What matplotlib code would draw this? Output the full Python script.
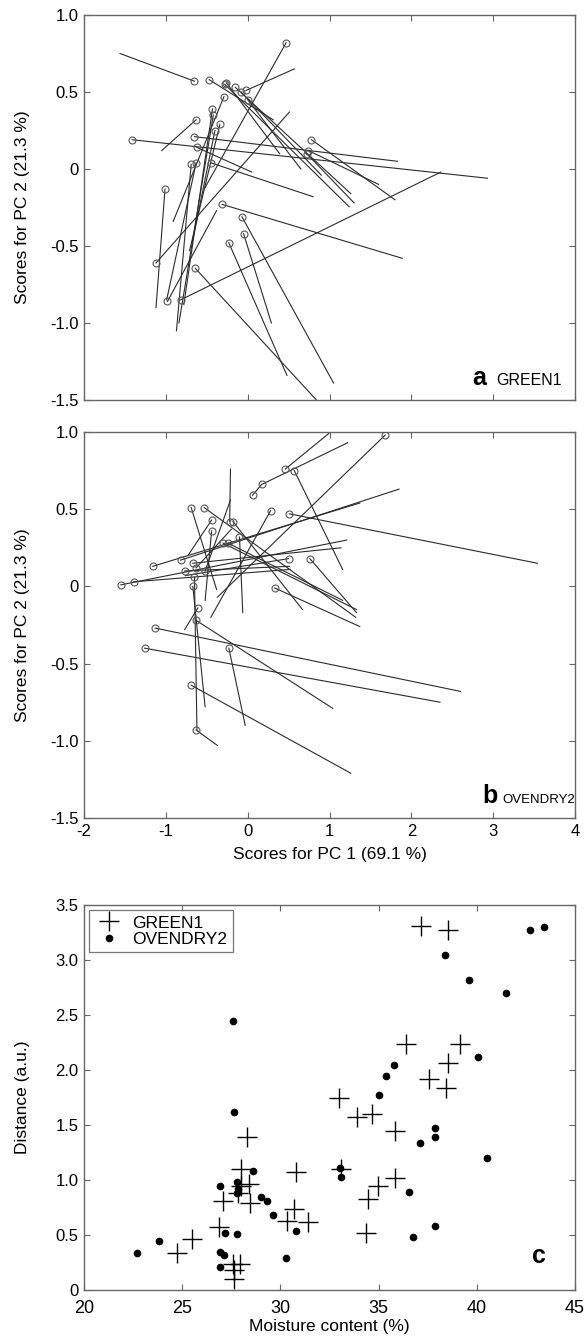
import matplotlib
matplotlib.use("Agg")
import matplotlib.pyplot as plt
from matplotlib.ticker import FixedLocator, FixedFormatter

plt.rcParams["font.family"] = ["Liberation Sans", "DejaVu Sans"]

# ---- panel a (GREEN1): PCA score start points (circles) and end points ----
a_start_x = [0.47, -0.65, -0.47, -0.28, -0.26, -0.15, -0.08, -0.02, 0.00, -0.29,
             -0.43, -0.42, -0.63, -0.34, -0.40, -1.41, -0.65, -0.62, 0.78, 0.74,
             -0.69, -0.63, -0.45, -1.01, -0.31, -0.07, -0.05, -0.23, -1.12, -0.64,
             -0.98, -0.82, 0.72]
a_start_y = [0.82, 0.57, 0.58, 0.55, 0.56, 0.53, 0.50, 0.51, 0.45, 0.47,
             0.39, 0.35, 0.32, 0.29, 0.25, 0.19, 0.21, 0.14, 0.19, 0.12,
             0.03, 0.04, 0.04, -0.13, -0.23, -0.31, -0.42, -0.48, -0.61, -0.645,
             -0.86, -0.85, 0.10]
a_end_x = [-0.52, -1.56, 0.31, 1.24, 0.39, 1.26, 0.90, 0.57, 0.65, -0.91,
           -0.78, -0.84, -1.05, -0.71, -0.67, 2.93, 1.83, 0.05, 1.80, 1.60,
           -0.87, -0.99, 0.80, -1.12, 1.89, 1.05, 0.29, 0.48, 0.51, 0.84,
           -0.38, 2.36, 1.30]
a_end_y = [-0.12, 0.75, 0.32, -0.245, 0.10, -0.16, -0.04, 0.65, 0.00, -0.34,
           -0.88, -1.00, 0.12, -0.53, -0.46, -0.06, 0.05, -0.02, -0.20, -0.10,
           -1.05, -0.85, -0.18, -0.90, -0.58, -1.39, -1.00, -1.34, 0.37, -1.50,
           -0.27, -0.02, -0.22]

# ---- panel b (OVENDRY2) ----
b_start_x = [1.68, 0.46, 0.57, 0.17, 0.06, -0.69, -0.53, 0.28, 0.51, -0.44,
             -0.44, -0.22, -0.18, -0.10, -0.30, -0.24, 0.50, 0.76, -0.82, -0.67,
             -0.77, -0.63, -0.52, -0.65, -1.55, -1.39, 0.33, -0.61, -0.63, -1.13,
             -1.26, -0.23, -0.69, -0.63, -0.67, -1.16]
b_start_y = [0.98, 0.76, 0.75, 0.66, 0.59, 0.51, 0.51, 0.49, 0.47, 0.43,
             0.36, 0.42, 0.42, 0.32, 0.28, 0.28, 0.18, 0.18, 0.17, 0.15,
             0.10, 0.12, 0.10, 0.06, 0.01, 0.03, -0.01, -0.14, -0.22, -0.27,
             -0.40, -0.40, -0.64, -0.93, 0.00, 0.13]
b_end_x = [-0.37, 0.99, 1.16, 1.22, 0.17, -0.38, 1.32, -0.45, 3.54, -0.73,
           -0.52, -0.21, 0.67, -0.06, 1.33, 1.16, -0.76, 1.33, 1.85, 1.14,
           0.51, -0.20, -0.21, -0.62, 1.21, 0.52, 1.37, -0.77, 1.04, 2.60,
           2.35, -0.03, 1.26, -0.37, -0.52, 1.37]
b_end_y = [-0.07, 0.99, 0.11, 0.93, 0.66, -0.02, -0.20, -0.20, 0.15, 0.20,
           -0.09, 0.76, -0.15, -0.17, -0.15, -0.09, 0.07, -0.17, 0.63, 0.25,
           0.13, 0.37, 0.56, -0.93, 0.30, 0.11, -0.26, -0.28, -0.79, -0.68,
           -0.75, -0.90, -1.21, -1.03, -0.78, 0.54]

# ---- panel c: distance vs moisture content ----
green_x = [24.75, 25.5, 26.85, 27.1, 27.65, 27.6, 27.95, 27.65, 28.0, 28.3,
           27.85, 28.0, 28.4, 28.45, 30.8, 30.7, 30.35, 31.4, 33.0, 33.1,
           33.9, 34.65, 35.85, 35.85, 34.95, 34.45, 34.35, 36.4, 37.15, 38.55,
           39.15, 38.55, 37.55, 38.45]
green_y = [0.34, 0.46, 0.57, 0.81, 0.10, 0.24, 0.24, 0.18, 1.10, 1.39,
           0.88, 0.95, 0.96, 0.79, 1.07, 0.74, 0.63, 0.62, 1.75, 1.10,
           1.57, 1.60, 1.45, 1.02, 0.95, 0.83, 0.52, 2.24, 3.31, 3.27,
           2.24, 2.06, 1.92, 1.84]
oven_x = [22.7, 23.8, 26.9, 27.2, 27.8, 26.9, 27.15, 26.9, 27.65, 27.8,
          27.85, 27.8, 28.6, 29.0, 29.3, 29.6, 30.8, 30.3, 33.05, 33.1,
          27.6, 42.7, 43.4, 38.4, 39.6, 41.5, 40.05, 35.8, 35.4, 35.0,
          37.85, 37.85, 37.1, 40.5, 36.55, 37.85, 36.75]
oven_y = [0.34, 0.45, 0.95, 0.52, 0.51, 0.35, 0.32, 0.21, 1.62, 0.98,
          0.92, 0.88, 1.08, 0.85, 0.81, 0.68, 0.54, 0.29, 1.11, 1.03,
          2.45, 3.27, 3.30, 3.05, 2.82, 2.70, 2.12, 2.05, 1.95, 1.77,
          1.47, 1.39, 1.34, 1.20, 0.89, 0.58, 0.48]

pc_xticks = [-2, -1, 0, 1, 2, 3, 4]
pc_yticks = [1.0, 0.5, 0, -0.5, -1.0, -1.5]
pc_ylabels = ["1.0", "0.5", "0", "-0.5", "-1.0", "-1.5"]
mc_xticks = [20, 25, 30, 35, 40, 45]
dist_yticks = [0, 0.5, 1.0, 1.5, 2.0, 2.5, 3.0, 3.5]
dist_ylabels = ["0", "0.5", "1.0", "1.5", "2.0", "2.5", "3.0", "3.5"]

LINE = "#2b2b2b"
SPINE = "#666666"
W, H = 585, 1343


def style_axes(ax):
    for s in ax.spines.values():
        s.set_color(SPINE)
        s.set_linewidth(1.0)
    ax.tick_params(direction="in", top=True, right=True, length=4,
                   width=0.8, color=SPINE, labelsize=12, pad=4)


def score_panel(rect, sx, sy, ex, ey, show_x):
    ax = fig.add_axes(rect)
    for x0, y0, x1, y1 in zip(sx, sy, ex, ey):
        ax.plot([x0, x1], [y0, y1], color=LINE, lw=0.8, zorder=2)
    ax.plot(sx, sy, "o", ms=5, mfc="none", mec="#555555", mew=0.8, zorder=3)
    ax.set_xlim(-2, 4)
    ax.set_ylim(-1.5, 1.0)
    ax.xaxis.set_major_locator(FixedLocator(pc_xticks))
    ax.yaxis.set_major_locator(FixedLocator(pc_yticks))
    ax.yaxis.set_major_formatter(FixedFormatter(pc_ylabels))
    if show_x:
        ax.set_xticklabels([str(t) for t in pc_xticks])
        ax.set_xlabel("Scores for PC 1 (69.1 %)", fontsize=12.5, labelpad=6)
    else:
        ax.set_xticklabels([])
    ax.set_ylabel("Scores for PC 2 (21.3 %)", fontsize=12.5)
    ax.yaxis.set_label_coords(-0.11, 0.5)
    style_axes(ax)
    return ax


fig = plt.figure(figsize=(W / 100, H / 100), dpi=100)

left = 84 / W
width = (575 - 84) / W
axa = score_panel([left, 1 - 400 / H, width, 385 / H], a_start_x, a_start_y,
                  a_end_x, a_end_y, False)
axa.text(0.79, 0.04, "a", transform=axa.transAxes, fontsize=18,
         fontweight="bold", va="baseline")
axa.text(0.84, 0.04, "GREEN1", transform=axa.transAxes, fontsize=11.5,
         va="baseline")

axb = score_panel([left, 1 - 818 / H, width, 386 / H], b_start_x, b_start_y,
                  b_end_x, b_end_y, True)
axb.text(0.812, 0.04, "b", transform=axb.transAxes, fontsize=18,
         fontweight="bold", va="baseline")
axb.text(0.853, 0.04, "OVENDRY2", transform=axb.transAxes, fontsize=9.5,
         va="baseline")

# --- panel c ---
axc = fig.add_axes([left, 1 - 1290 / H, width, 385 / H])
axc.plot(green_x, green_y, "+", ms=15, mew=1.0, color="black", label="GREEN1")
axc.plot(oven_x, oven_y, "o", ms=4.5, color="black", label="OVENDRY2")
axc.set_xlim(20, 45)
axc.set_ylim(0, 3.5)
axc.xaxis.set_major_locator(FixedLocator(mc_xticks))
axc.yaxis.set_major_locator(FixedLocator(dist_yticks))
axc.yaxis.set_major_formatter(FixedFormatter(dist_ylabels))
axc.set_xticklabels([str(t) for t in mc_xticks])
axc.set_xlabel("Moisture content (%)", fontsize=12.5, labelpad=2)
axc.set_ylabel("Distance (a.u.)", fontsize=12.5)
axc.yaxis.set_label_coords(-0.11, 0.5)
style_axes(axc)
axc.tick_params(axis="x", labelsize=13, pad=7)
leg = axc.legend(loc="upper left", fontsize=12.5, frameon=True, fancybox=False,
                 borderaxespad=0.3, handletextpad=0.5, borderpad=0.3,
                 labelspacing=0.05, handlelength=1.7)
leg.get_frame().set_edgecolor("#555555")
leg.get_frame().set_linewidth(0.9)
axc.text(0.912, 0.07, "c", transform=axc.transAxes, fontsize=18,
         fontweight="bold", va="baseline")

fig.savefig("out.png", dpi=100)
